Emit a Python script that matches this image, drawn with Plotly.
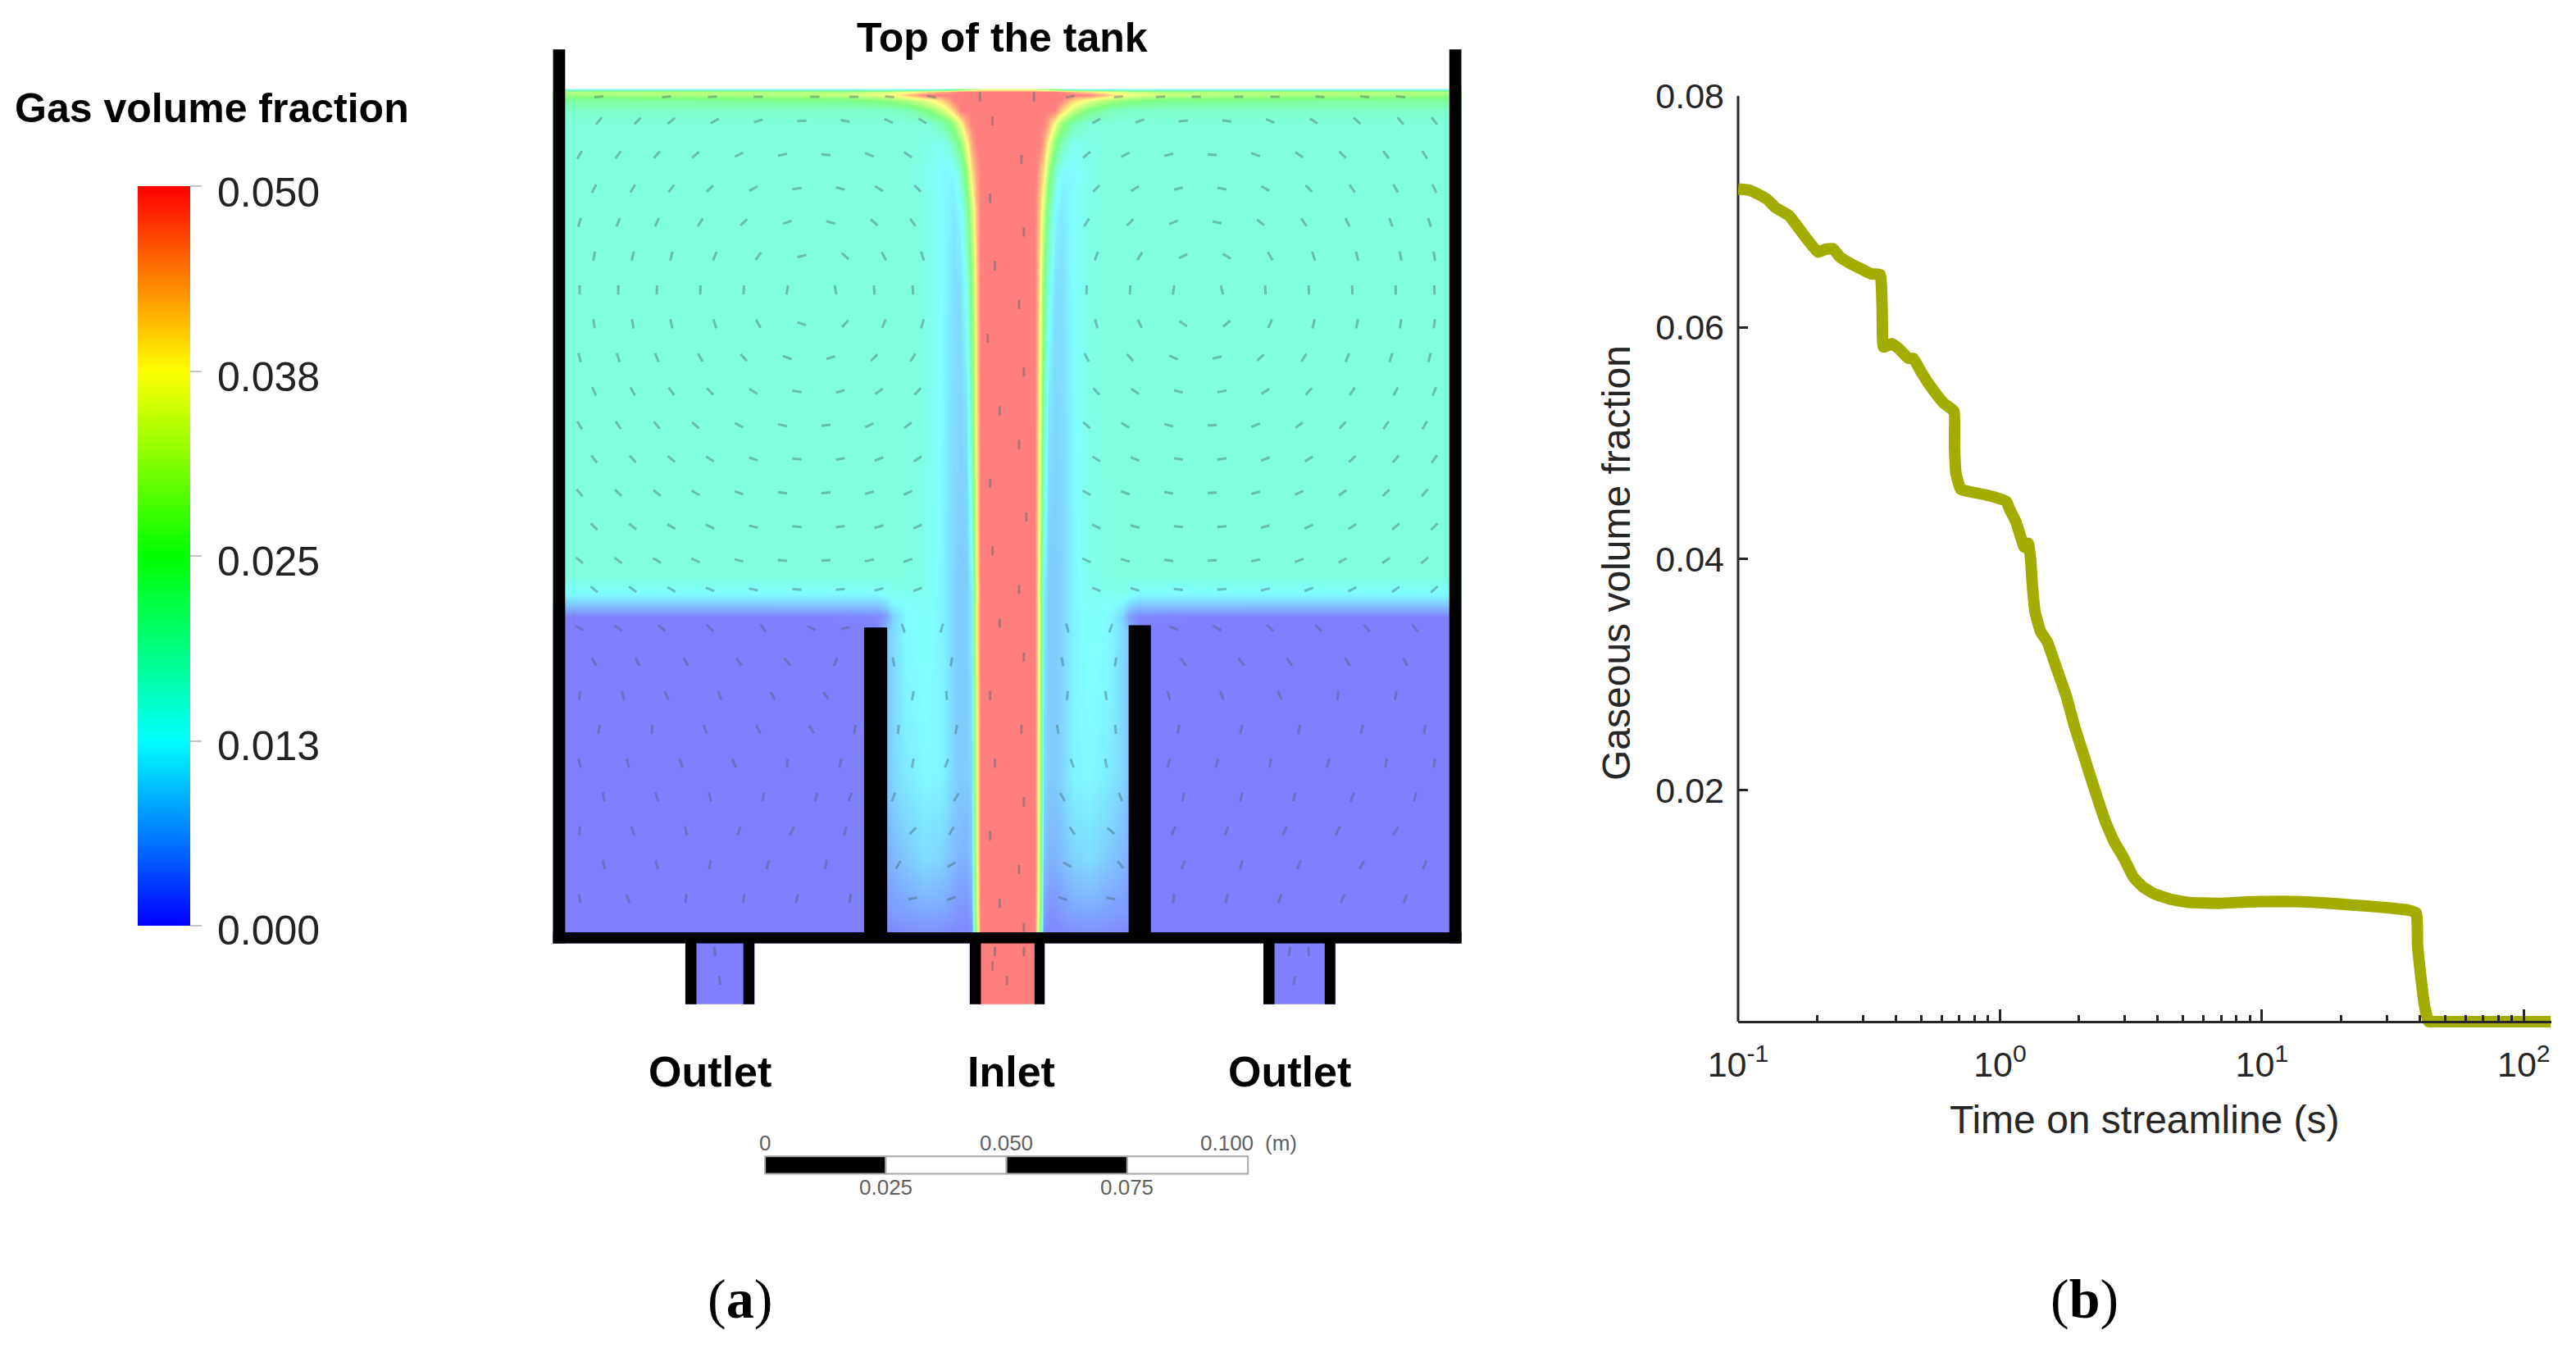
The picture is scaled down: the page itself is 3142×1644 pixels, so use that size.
import plotly.graph_objects as go

W, H = 3142, 1644

# ---------- panel (b): streamline curve ----------
time_s = [0.100,0.1106,0.1189,0.1293,0.1390,0.1568,0.1704,0.1832,0.2017,0.2142,0.2302,0.2444,0.2692,0.2962,0.3224,0.3489,
          0.3548,0.3590,0.3860,0.4097,0.4458,0.4675,0.5025,0.5534,0.6092,0.6675,0.6704,0.6786,0.7072,0.7561,0.8733,0.9612,
          1.0585,1.084,1.151,1.214,1.237,1.282,1.307,1.329,1.362,1.428,1.518,1.611,1.795,1.929,2.099,2.282,2.513,2.732,2.973,
          3.235,3.517,3.873,4.474,5.291,6.894,8.765,11.69,14.86,19.36,25.23,30.56,36.18,38.88,39.33,40.76,41.78,43.31,46.0,60.0,127.0]
gas_fraction = [0.07196,0.07186,0.07153,0.07106,0.07035,0.06965,0.06858,0.06763,0.06650,0.06674,0.06681,0.06610,0.06551,0.06504,0.06463,0.06456,
                0.06161,0.05831,0.05859,0.05819,0.05736,0.05731,0.05606,0.05464,0.05346,0.05275,0.04980,0.04743,0.04602,0.04583,0.04555,0.04531,
                0.04495,0.04437,0.04318,0.04153,0.04101,0.04134,0.04011,0.03775,0.03539,0.03373,0.03279,0.03113,0.02807,0.02546,0.02287,0.02027,0.01743,0.01554,0.01412,
                0.01247,0.01164,0.01106,0.01058,0.01030,0.01023,0.01035,0.01040,0.01035,0.01018,0.00999,0.00983,0.00964,0.00940,0.00657,0.00326,0.00137,0.0,0.0,0.0,0.0]
y_ticks = [0.02, 0.04, 0.06, 0.08]
y_tick_labels = ["0.02", "0.04", "0.06", "0.08"]
x_ticks = [0.1, 1, 10, 100]
x_tick_labels = ["10<sup>-1</sup>", "10<sup>0</sup>", "10<sup>1</sup>", "10<sup>2</sup>"]
x_minor = [0.2,0.3,0.4,0.5,0.6,0.7,0.8,0.9,2,3,4,5,6,7,8,9,20,30,40,50,60,70,80,90]

# ---------- panel (a): gas fraction field, positions in mm ----------
bar_ticks = [0, 0.0125, 0.025, 0.0375, 0.05]
bar_labels = ["0.000", "0.013", "0.025", "0.038", "0.050"]
jet_centre = 91.65
field_dx = [0,4.4,5.6,6.5,7.5,8.5,9.8,11.2,13.6,17,21.2,23.8,25.1,27.2,34,50.9,67.9,91.5]
field_y = [-15,-2.2,0,4.6,14.8,31.7,48.7,62.3,65.4,67.4,69.9,74.2,108.1,133.6,148.9,157.4,163.3,167.6,170.1,172.3,173.3,174,174.6]
field_half = [
 [.05,.05,.05,.05,0,0,0,0,0,0,0,0,0,0,0,0,0,0],
 [.05,.05,.05,.05,0,0,0,0,0,0,0,0,0,0,0,0,0,0],
 [.05,.05,.05,.03,.002,.001,.001,.001,.0015,.002,.0015,.001,.001,0,0,0,0,0],
 [.05,.05,.05,.034,.004,.002,.002,.003,.004,.0045,.0035,.003,.0025,0,0,0,0,0],
 [.05,.05,.05,.036,.007,.005,.005,.006,.008,.009,.007,.0055,.0045,0,0,0,0,0],
 [.05,.05,.05,.036,.009,.0075,.0075,.0085,.0115,.012,.0105,.0085,.0065,0,0,0,0,0],
 [.05,.05,.05,.037,.01,.0075,.0075,.0085,.0115,.0125,.0115,.0085,.007,0,0,0,0,0],
 [.05,.05,.05,.038,.011,.0075,.0075,.0085,.0115,.013,.012,.009,.007,0,0,0,0,0],
 [.05,.05,.05,.038,.011,.0075,.0075,.0085,.0115,.013,.012,.0085,.003,.001,.0006,.0003,.0003,.0003],
 [.05,.05,.05,.038,.011,.0075,.0075,.0085,.0115,.0135,.0125,.011,.008,.006,.006,.006,.006,.006],
 [.05,.05,.05,.036,.011,.0075,.0075,.0085,.0115,.0135,.014,.014,.013,.012,.012,.012,.012,.012],
 [.05,.05,.05,.038,.012,.0075,.0075,.0085,.0115,.0145,.0155,.016,.016,.016,.016,.016,.016,.016],
 [.05,.05,.05,.04,.02,.01,.0085,.009,.012,.015,.016,.016,.016,.016,.016,.016,.016,.016],
 [.05,.05,.05,.042,.025,.014,.0095,.0095,.0125,.015,.016,.016,.016,.016,.016,.016,.016,.016],
 [.05,.05,.05,.044,.032,.02,.012,.0105,.0125,.015,.016,.016,.016,.016,.016,.016,.016,.016],
 [.05,.05,.05,.047,.04,.028,.017,.012,.012,.0145,.016,.016,.016,.016,.016,.016,.016,.016],
 [.05,.05,.05,.05,.046,.037,.026,.019,.014,.015,.016,.016,.016,.016,.016,.016,.016,.016],
 [.05,.05,.05,.05,.05,.046,.037,.028,.02,.016,.016,.016,.016,.016,.016,.016,.016,.016],
 [.05,.05,.05,.05,.05,.05,.05,.042,.032,.024,.019,.018,.0175,.0175,.0175,.0175,.0175,.0175],
 [.05,.05,.05,.05,.05,.05,.05,.05,.042,.036,.03,.028,.027,.026,.024,.023,.022,.022],
 [.05,.05,.05,.05,.05,.05,.05,.05,.05,.05,.042,.038,.036,.035,.032,.03,.03,.028],
 [.05,.05,.05,.05,.05,.05,.05,.048,.045,.04,.036,.034,.033,.033,.03,.03,.03,.03],
 [.035,.035,.035,.03,.03,.028,.025,.02,.015,.012,.012,.012,.012,.012,.012,.012,.012,.012],
]
rainbow = [[0, "#0000ff"], [0.25, "#00ffff"], [0.5, "#00ff00"], [0.75, "#ffff00"], [1, "#ff0000"]]

# flow-direction dashes: each row is (height mm, [x mm], [direction deg clockwise from vertical])
dash_rows = [
 (173, [7,21,30.5,40,51.7,59.8,67.2,75.9,85.9,97.1,104.6,114.6,123.3,130.7,139.5,147,156.3,165.6,173], [85,85,88,90,90,90,-85,-80,0,0,80,85,88,90,90,90,-88,-85,-85]),
 (168, [7,15,22,31,40,49,58,67,74,110,119,128,137,146,155,164,173,180], [39,45,51,61,73,87,-79,-66,-57,59,70,84,-82,-69,-57,-48,-41,-37]),
 (161, [3,11,19,27,36,45,54,63,71,108,116,125,134,143,152,161,170,178], [31,36,42,50,63,78,-84,-67,-55,50,61,76,-86,-69,-55,-45,-37,-32]),
 (154, [6,14,22,30,39,48,57,65,73,110,118,127,136,145,154,163,172,180], [26,31,37,46,61,82,-75,-58,-45,45,58,77,-80,-59,-45,-35,-29,-25]),
 (147, [3,11,19,28,37,46,55,64,72,108,117,126,135,144,153,162,171,179], [17,21,25,33,47,72,-75,-49,-36,32,45,68,-79,-51,-36,-27,-21,-18]),
 (140, [6,14,22,31,40,49,58,66,74,110,119,128,137,146,155,164,173,180], [10,12,15,22,36,76,-49,-28,-19,20,32,63,-58,-30,-19,-14,-11,-9]),
 (133, [3,11,19,28,37,46,56,64,72,108,117,126,136,145,154,163,172,180], [1,1,2,2,4,11,-11,-4,-3,2,4,9,-14,-4,-3,-2,-1,-1]),
 (126, [6,14,22,31,40,49,58,66,74,110,119,128,137,146,155,164,173,180], [-8,-9,-12,-17,-29,-72,41,22,15,-15,-25,-56,50,23,15,11,8,7]),
 (119, [3,11,19,28,37,46,55,64,72,108,117,126,135,144,153,162,171,179], [-15,-18,-22,-29,-43,-69,73,45,32,-28,-41,-65,77,47,32,23,18,15]),
 (112, [6,14,22,30,39,48,57,65,73,110,118,127,136,145,154,163,172,180], [-24,-28,-35,-44,-59,-81,73,55,42,-42,-55,-76,79,57,42,33,27,23]),
 (105, [3,11,19,27,36,45,54,63,71,108,116,125,134,143,152,161,170,178], [-29,-34,-40,-48,-61,-78,84,66,53,-48,-59,-75,86,68,53,43,35,30]),
 (98, [6,14,22,30,39,48,57,65,73,110,118,127,136,145,154,163,172,180], [-37,-43,-50,-58,-71,-85,80,68,57,-57,-68,-82,83,69,57,48,40,35]),
 (91, [3,11,19,27,36,45,54,63,71,108,116,125,134,143,152,161,170,178], [-40,-46,-52,-60,-70,-82,86,74,64,-60,-69,-80,87,75,64,55,47,42]),
 (84, [6,14,22,30,39,48,57,65,73,110,118,127,136,145,154,163,172,180], [-47,-52,-59,-66,-76,-86,83,74,65,-65,-74,-84,85,75,65,57,50,45]),
 (77, [3,11,19,27,36,45,54,63,71,108,116,125,134,143,152,161,170,178], [-49,-54,-60,-66,-75,-84,87,78,70,-66,-74,-83,88,79,70,62,55,50]),
 (71, [6,14,22,30,39,48,57,65,73,110,118,127,136,145,154,163,172,180], [-50,-55,-60,-68,-78,-86,85,75,70,-68,-74,-84,85,78,70,62,55,50]),
 (63, [3,11,20,30,41,51,58,70,78,104,113,126,135,146,156,166,176], [-60,-55,-50,-45,-35,-60,80,-20,15,-15,20,-70,-60,-50,-45,-40,-35]),
 (56, [6,15,25,36,46,56,68,80,103,114,128,140,150,162,174], [-30,-25,-30,-35,-40,20,-10,10,-10,10,-35,-40,-35,-30,-25]),
 (49, [3,12,21,32,43,54,72,79,104,112,125,136,148,160,172], [5,-15,-25,-20,-30,-35,10,-5,5,-10,-15,-20,-25,5,10]),
 (42, [7,18,29,40,51,60,69,81,102,114,127,140,152,165,178], [10,5,-20,-25,-30,10,5,10,-10,-5,10,15,10,15,10]),
 (35, [3,13,24,35,46,57,72,79,105,112,125,135,146,158,170,180], [-15,-15,-20,-25,5,10,10,20,-20,-10,15,15,10,15,10,10]),
 (28, [8,19,30,41,52,59,68,81,103,115,128,140,151,163,176], [-10,-20,-15,10,15,20,20,30,-30,-20,10,15,15,20,15]),
 (21, [3,14,25,36,47,58,72,80,105,113,126,137,149,160,172], [5,-20,-15,20,25,15,45,30,-35,-50,25,20,25,25,30]),
 (14, [8,19,30,42,54,69,80,104,115,128,140,152,165,178], [-15,-15,10,15,10,30,60,-60,-40,20,15,25,30,25]),
 (7, [3,13,25,37,48,59,72,80,103,113,126,137,148,161,174], [-10,-20,5,10,15,10,80,70,-70,-80,5,15,20,25,20]),
 (-4, [31,89,95,150,154], [-5,0,0,5,-5]),
 (-10, [32,91.5,151], [-10,0,10]),
]
jet_dash_y = [168,160,152,145,138,130,123,116,108,101,93,86,79,71,64,57,49,42,35,27,20,13,6,1,-7]
jet_dash_x = [88.5,94.5,88,95,89,94,87.5,95,90,94,88,95.5,88.5,94,90,95,88,94.5,89,95,88,94,90,95,88.5]

# tank geometry in mm: (x0, x1, y0, y1)
walls = [(-2.5,0,-2.3,182.8),(183.1,185.6,-2.3,182.8),(-2.5,185.6,-2.3,0),
         (61.9,66.7,0,63.1),(116.7,121.3,0,63.6),
         (24.9,27.2,-14.9,0),(36.9,39.2,-14.9,0),(83.8,86.1,-14.9,0),(97.2,99.3,-14.9,0),
         (144.6,146.9,-14.9,0),(157.3,159.5,-14.9,0)]
outside = [(-30,-2.5,-30,186),(185.6,215,-30,186),(-30,215,174.6,186),(-30,215,-30,-14.9),
           (-6,24.9,-16,-2.3),(39.2,83.8,-16,-2.3),(99.3,144.6,-16,-2.3),(159.5,189,-16,-2.3)]
scale_segments = [(41.4,66.4,"#000000"),(66.4,91.4,"#ffffff"),(91.4,116.4,"#000000"),(116.4,141.4,"#ffffff")]
scale_top = [(41.4,"0"),(91.4,"0.050"),(137.1,"0.100"),(148.2,"(m)")]
scale_bottom = [(66.4,"0.025"),(116.4,"0.075")]

field_x = [jet_centre - d for d in field_dx[:0:-1]] + [jet_centre + d for d in field_dx]
field_z = [row[:0:-1] + row for row in field_half]
dash_x, dash_y, dash_angle = [], [], []
for y, xs, angles in dash_rows:
    dash_x += xs; dash_y += [y] * len(xs); dash_angle += angles
dash_x += jet_dash_x; dash_y += jet_dash_y; dash_angle += [0] * len(jet_dash_x)

fig = go.Figure()
fig.add_trace(go.Heatmap(x=field_x, y=field_y, z=field_z, zmin=0, zmax=0.05, colorscale=rainbow,
    zsmooth="best", opacity=0.5, xaxis="x", yaxis="y", hoverinfo="skip",
    colorbar=dict(thicknessmode="pixels", thickness=64, lenmode="pixels", len=902, xpad=0, ypad=0,
        x=168/W, xanchor="left", y=1-(227+451)/H, yanchor="middle", outlinewidth=0,
        tickmode="array", tickvals=bar_ticks, ticktext=bar_labels, showticklabels=False, ticks="outside", ticklen=14,
        tickwidth=2, tickcolor="#c4c4c4")))
fig.add_trace(go.Scatter(x=dash_x, y=dash_y, mode="markers", xaxis="x", yaxis="y", showlegend=False, hoverinfo="skip",
    marker=dict(symbol="line-ns", size=8, angle=dash_angle, line=dict(width=3, color="rgba(70,100,110,0.42)"))))
fig.add_trace(go.Scatter(x=time_s, y=gas_fraction, mode="lines", xaxis="x2", yaxis="y2", cliponaxis=False,
    line=dict(color="#a3ad00", width=14, shape="spline", smoothing=0.35), showlegend=False, hoverinfo="skip"))

def px_x(p): return p / W
def px_y(p): return 1 - p / H

ink = "#262626"
shapes = []
for x0, x1, y0, y1 in outside:
    shapes.append(dict(type="rect", xref="x", yref="y", x0=x0, x1=x1, y0=y0, y1=y1, fillcolor="white", line_width=0, layer="above"))
for x0, x1, y0, y1 in walls:
    shapes.append(dict(type="rect", xref="x", yref="y", x0=x0, x1=x1, y0=y0, y1=y1, fillcolor="black", line_width=0, layer="above"))
for x0, x1, c in scale_segments:
    shapes.append(dict(type="rect", xref="x", yref="y", x0=x0, x1=x1, y0=-50, y1=-46.4, fillcolor=c,
                       line=dict(color="#a8a8a8", width=2), layer="above"))
# y axis line of panel (b), from the value 0 to the top of the range
shapes.append(dict(type="line", xref="x2 domain", yref="y2", x0=0, x1=0, y0=0, y1=0.08, line=dict(color=ink, width=3), layer="below"))

def note(text, x, y, size, bold=False, family="Liberation Sans", color="#000000", anchor="center"):
    return dict(text=f"<b>{text}</b>" if bold else text, xref="paper", yref="paper", x=px_x(x), y=px_y(y),
                xanchor=anchor, yanchor="middle", showarrow=False, font=dict(family=family, size=size, color=color))

annotations = [
    note("Gas volume fraction", 258, 132, 50, True),
    note("Top of the tank", 1222, 46, 50, True),
    note("Outlet", 866, 1307, 52, True),
    note("Inlet", 1233, 1307, 52, True),
    note("Outlet", 1573, 1307, 52, True),
    note("(<b>a</b>)", 902, 1584, 68, family="Liberation Serif"),
    note("(<b>b</b>)", 2542, 1584, 68, family="Liberation Serif"),
]
for v, t in zip(bar_ticks, bar_labels):
    annotations.append(note(t, 263, 235 + (0.05 - v) / 0.05 * 900, 50, color="#222222", anchor="left"))
for x, t in scale_top:
    annotations.append(dict(text=t, xref="x", yref="y", x=x, y=-43.7, showarrow=False, xanchor="center", yanchor="middle",
                            font=dict(family="Liberation Sans", size=26, color="#606060")))
for x, t in scale_bottom:
    annotations.append(dict(text=t, xref="x", yref="y", x=x, y=-52.8, showarrow=False, xanchor="center", yanchor="middle",
                            font=dict(family="Liberation Sans", size=26, color="#606060")))

tick_font = dict(family="Liberation Sans", size=43, color=ink)
fig.update_layout(
    width=W, height=H, margin=dict(l=0, r=0, t=0, b=0, autoexpand=False), paper_bgcolor="white", plot_bgcolor="white", showlegend=False,
    shapes=shapes, annotations=annotations,
    xaxis=dict(domain=[px_x(660), px_x(1800)], range=[(660-689.3)/5.89, (1800-689.3)/5.89], visible=False),
    yaxis=dict(domain=[px_y(1480), px_y(40)], range=[(1137-1480)/5.89, (1137-40)/5.89], visible=False),
    xaxis2=dict(domain=[px_x(2120), px_x(3111.5)], type="log", range=[-1, 2.104], anchor="free", position=px_y(1246), showline=True, linecolor=ink, linewidth=3,
        showgrid=False, zeroline=False, tickmode="array", tickvals=x_ticks, ticktext=x_tick_labels, ticks="inside", ticklen=14,
        tickwidth=3, tickcolor=ink, tickfont=tick_font, ticklabelstandoff=13,
        minor=dict(tickmode="array", tickvals=x_minor, ticks="inside", ticklen=7, tickwidth=3, tickcolor=ink, showgrid=False),
        title=dict(text="Time on streamline (s)", font=dict(family="Liberation Sans", size=48, color=ink), standoff=27)),
    yaxis2=dict(domain=[px_y(1256), px_y(117.1)], range=[-10/14110, 0.08], anchor="x2", showline=False,
        showgrid=False, zeroline=False, tickmode="array", tickvals=y_ticks, ticktext=y_tick_labels, ticks="inside", ticklen=12,
        tickwidth=3, tickcolor=ink, tickfont=tick_font, ticklabelstandoff=16,
        title=dict(text="Gaseous volume fraction", font=dict(family="Liberation Sans", size=48, color=ink), standoff=15)),
)
fig.write_html("out.html", config={"displayModeBar": False},
               post_script="document.body.style.margin='0';document.body.style.overflow='hidden';")
